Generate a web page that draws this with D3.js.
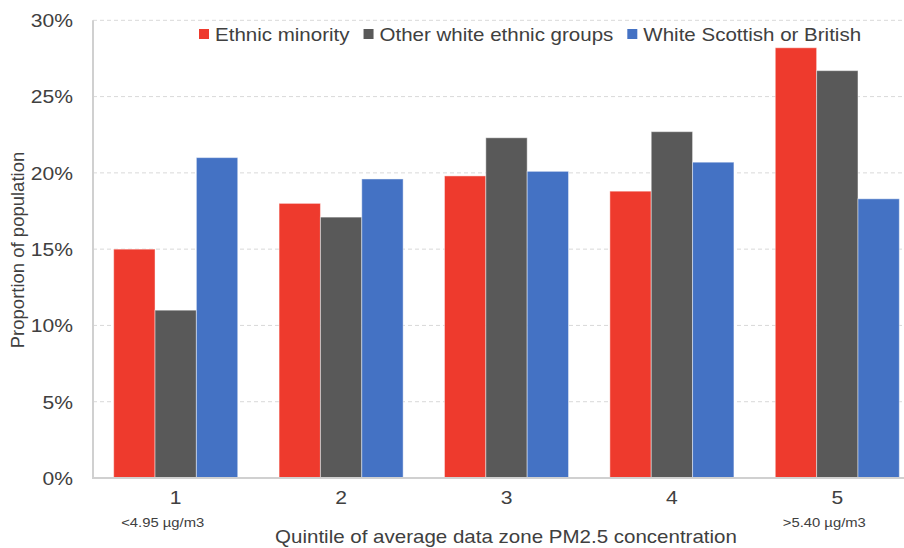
<!DOCTYPE html>
<html>
<head>
<meta charset="utf-8">
<script src="https://cdn.jsdelivr.net/npm/d3@7"></script>
<style>
  html, body { margin: 0; padding: 0; background: #fff; }
  svg { display: block; font-family: "Liberation Sans", Arial, sans-serif; }
</style>
</head>
<body>
<svg id="chart" width="904" height="548"></svg>
<script>
// Population share by PM2.5 quintile, per ethnic group
const quintiles = ["1", "2", "3", "4", "5"];
const quintileNotes = ["<4.95 µg/m3", "", "", "", ">5.40 µg/m3"];
const seriesNames = ["Ethnic minority", "Other white ethnic groups", "White Scottish or British"];
const ethnicMinority = [0.150, 0.180, 0.198, 0.188, 0.282];
const otherWhite = [0.110, 0.171, 0.223, 0.227, 0.267];
const whiteScottishBritish = [0.210, 0.196, 0.201, 0.207, 0.183];
const seriesColors = ["#EE3A2D", "#595959", "#4472C4"];
const yTicks = [0, 0.05, 0.10, 0.15, 0.20, 0.25, 0.30];

const seriesValues = [ethnicMinority, otherWhite, whiteScottishBritish];
const rows = quintiles.map((q, i) => ({
  q,
  values: seriesNames.map((name, s) => ({ name, s, v: seriesValues[s][i] }))
}));

const svg = d3.select("#chart");
const textColor = "#404040";
const stretch = 1.14; // wide text rendering

const x = d3.scaleBand().domain(quintiles).range([93, 920])
  .paddingInner(0.25).paddingOuter(0.125);
const xSeries = d3.scaleBand().domain(seriesNames).range([0, x.bandwidth()]);
const y = d3.scaleLinear().domain([0, 0.30]).range([478, 20.3]);

// helper: place horizontally widened text
function wideText(g, str, px, py, size, anchor) {
  const t = g.append("text")
    .attr("transform", `translate(${px},${py}) scale(${stretch},1)`)
    .attr("font-size", size)
    .attr("fill", textColor)
    .attr("text-anchor", anchor || "start")
    .text(str);
  return t;
}

// gridlines
svg.append("g").selectAll("line")
  .data(yTicks.filter(d => d > 0))
  .join("line")
  .attr("x1", 93).attr("x2", 904)
  .attr("y1", d => y(d)).attr("y2", d => y(d))
  .attr("stroke", "#D9D9D9")
  .attr("stroke-width", 1)
  .attr("stroke-dasharray", "4,3");

// y axis tick labels
const yAxis = d3.axisLeft(y).tickValues(yTicks).tickFormat(d3.format(".0%")).tickSize(0);
const yg = svg.append("g").attr("transform", "translate(93,0)").call(yAxis);
yg.select(".domain").remove();
yg.selectAll("text")
  .attr("font-size", 18.5)
  .attr("fill", textColor)
  .attr("font-family", "Liberation Sans, Arial, sans-serif")
  .attr("dy", "0.34em")
  .attr("x", 0)
  .attr("transform", `translate(-20,0) scale(${stretch},1)`);

// bars
const groups = svg.append("g").selectAll("g")
  .data(rows)
  .join("g")
  .attr("transform", d => `translate(${x(d.q)},0)`);
groups.selectAll("rect")
  .data(d => d.values)
  .join("rect")
  .attr("x", d => xSeries(d.name))
  .attr("width", xSeries.bandwidth())
  .attr("y", d => y(d.v))
  .attr("height", d => y(0) - y(d.v))
  .attr("fill", d => seriesColors[d.s])
  .attr("stroke", "rgba(255,255,255,0.45)")
  .attr("stroke-width", 1);

// axis lines
svg.append("line")
  .attr("x1", 93).attr("x2", 93).attr("y1", y(0.30)).attr("y2", y(0))
  .attr("stroke", "#D0D0D0").attr("stroke-width", 2);
svg.append("line")
  .attr("x1", 92).attr("x2", 904).attr("y1", y(0)).attr("y2", y(0))
  .attr("stroke", "#D0D0D0").attr("stroke-width", 2);

// x axis labels
const xLab = svg.append("g");
quintiles.forEach((q, i) => {
  const cx = x(q) + x.bandwidth() / 2;
  wideText(xLab, q, cx, 504, 18.5, "middle");
  if (quintileNotes[i]) wideText(xLab, quintileNotes[i], cx - 13, 527, 13, "middle");
});

// axis titles
wideText(svg, "Quintile of average data zone PM2.5 concentration", 506, 543, 18, "middle");
svg.append("text")
  .attr("transform", "translate(24,250) rotate(-90)")
  .attr("text-anchor", "middle")
  .attr("font-size", 18.5)
  .attr("fill", textColor)
  .text("Proportion of population");

// legend
const legend = svg.append("g");
let lx = 199;
seriesNames.forEach((name, s) => {
  legend.append("rect")
    .attr("x", lx).attr("y", 29).attr("width", 10).attr("height", 10)
    .attr("fill", seriesColors[s]);
  const t = wideText(legend, name, lx + 16, 40.5, 18, "start");
  const w = t.node().getComputedTextLength() * stretch;
  lx += 16 + w + 14;
});
</script>
</body>
</html>
